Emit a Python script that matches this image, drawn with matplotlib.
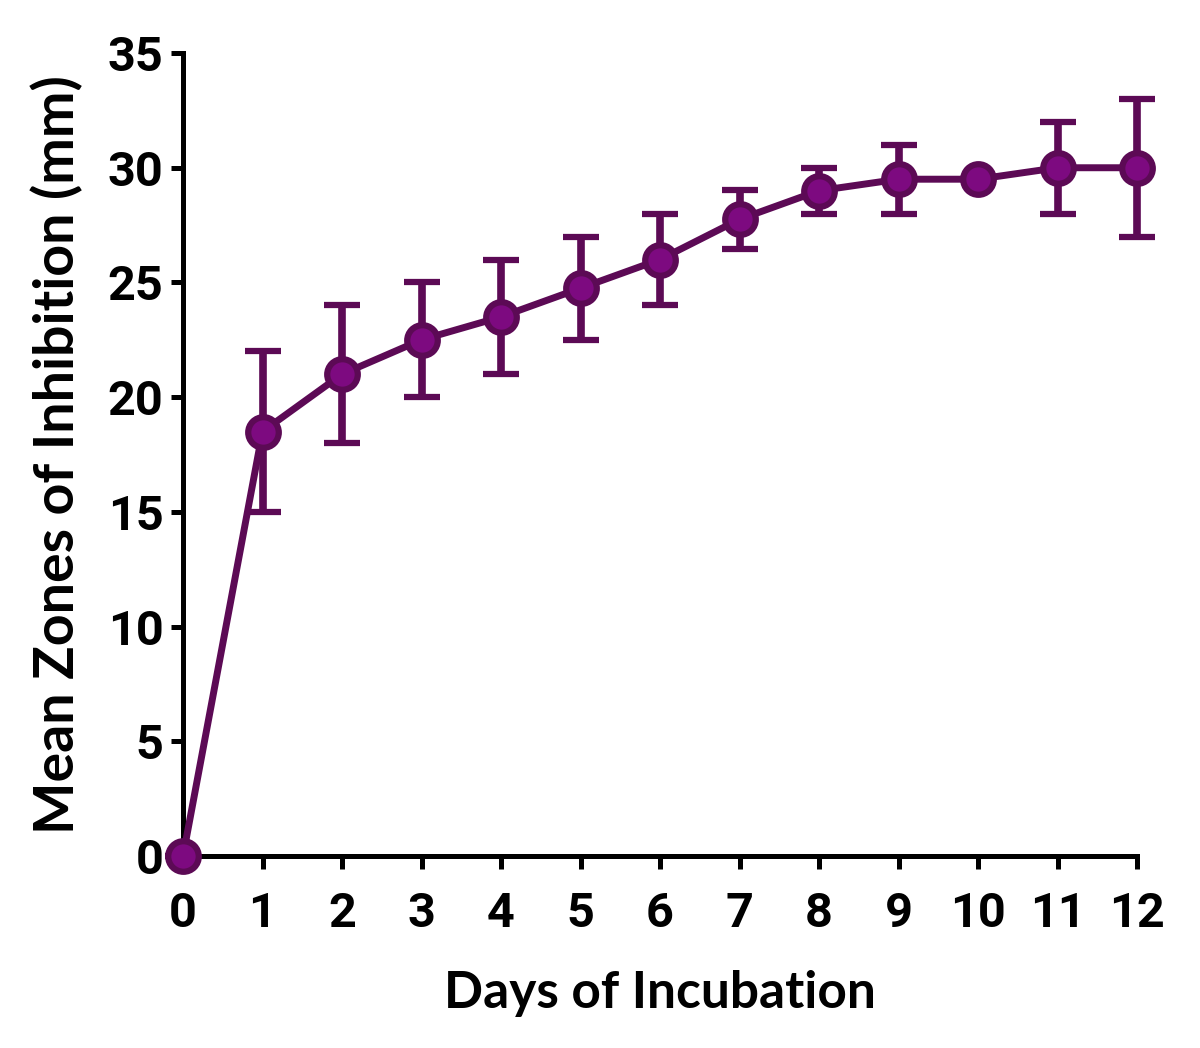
"""
Mean zones of inhibition vs days of incubation
"""

import numpy as np
import matplotlib.pyplot as plt

plt.rcParams['font.family'] = ['Roboto', 'DejaVu Sans']
plt.rcParams['font.weight'] = 'bold'

# Data
days = [0, 1, 2, 3, 4, 5, 6, 7, 8, 9, 10, 11, 12]
mean_zone = [0, 18.5, 21, 22.5, 23.5, 24.75, 26, 27.75, 29, 29.5, 29.5, 30, 30]
err = [0, 3.5, 3, 2.5, 2.5, 2.25, 2, 1.3, 1, 1.5, 0, 2, 3]

yticks = [0, 5, 10, 15, 20, 25, 30, 35]

LINE = '#5c0a55'
FILL = '#7d0a80'

fig = plt.figure(figsize=(12, 10.48), dpi=100)
ax = fig.add_axes([0.1525, 0.1832, 0.795, 0.7662])

ax.errorbar(days, mean_zone, yerr=err, color=LINE, lw=5,
            marker='o', ms=22, mfc=FILL, mec=LINE, mew=4.5,
            ecolor=LINE, elinewidth=5.5, capsize=13, capthick=7,
            clip_on=False, zorder=3)

ax.set_xlim(0, 12)
ax.set_ylim(0, 35)
ax.set_xticks(days)
ax.set_yticks(yticks)

for s in ['top', 'right']:
    ax.spines[s].set_visible(False)
for s in ['left', 'bottom']:
    ax.spines[s].set_linewidth(3.6)
    ax.spines[s].set_zorder(1)

ax.tick_params(width=3.6, length=9, labelsize=35)
ax.tick_params(axis='x', pad=16)
ax.tick_params(axis='y', pad=5)
ax.set_xlabel('Days of Incubation', fontsize=37, fontweight='bold',
              family=['Lato', 'DejaVu Sans'], labelpad=24)
ax.set_ylabel('Mean Zones of Inhibition (mm)', fontsize=40, fontweight='bold',
              family=['Lato', 'DejaVu Sans'], labelpad=18)

fig.savefig('out.png', dpi=100)
